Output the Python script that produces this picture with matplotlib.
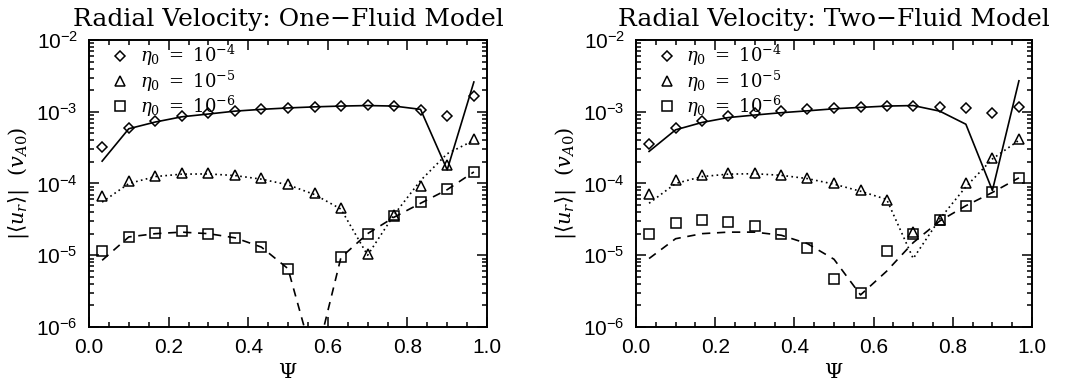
import numpy as np
import matplotlib
matplotlib.use("Agg")
import matplotlib.pyplot as plt
from matplotlib.ticker import MultipleLocator, LogLocator, NullFormatter
from matplotlib.lines import Line2D

psi = [0.033, 0.100, 0.167, 0.233, 0.300, 0.367, 0.433, 0.500,
       0.567, 0.633, 0.700, 0.767, 0.833, 0.900, 0.967]

# ---- One-fluid model ----
one_diam = [3.2e-4, 5.9e-4, 7.4e-4, 8.7e-4, 9.5e-4, 1.04e-3, 1.10e-3, 1.14e-3,
            1.18e-3, 1.21e-3, 1.23e-3, 1.20e-3, 1.07e-3, 8.7e-4, 1.65e-3]
one_solid = [2.05e-4, 5.8e-4, 7.2e-4, 8.5e-4, 9.3e-4, 1.02e-3, 1.08e-3, 1.13e-3,
             1.17e-3, 1.20e-3, 1.22e-3, 1.20e-3, 1.08e-3, 1.55e-4, 2.6e-3]
one_tri = [6.6e-5, 1.07e-4, 1.28e-4, 1.38e-4, 1.38e-4, 1.30e-4, 1.18e-4, 9.8e-5,
           7.3e-5, 4.5e-5, 1.05e-5, 3.6e-5, 9.3e-5, 1.8e-4, 4.2e-4]
one_dot = [5.5e-5, 1.0e-4, 1.25e-4, 1.35e-4, 1.36e-4, 1.29e-4, 1.15e-4, 9.6e-5,
           7.0e-5, 4.4e-5, 1.0e-5, 3.7e-5, 1.1e-4, 2.6e-4, 4.0e-4]
one_sq = [1.15e-5, 1.8e-5, 2.05e-5, 2.15e-5, 2.0e-5, 1.75e-5, 1.3e-5, 6.5e-6,
          np.nan, 9.5e-6, 2.0e-5, 3.5e-5, 5.5e-5, 8.3e-5, 1.45e-4]
one_dash = [8.5e-6, 1.8e-5, 2.0e-5, 2.1e-5, 2.0e-5, 1.75e-5, 1.3e-5, 6.5e-6,
            3.0e-7, 9.3e-6, 2.0e-5, 3.4e-5, 5.3e-5, 8.2e-5, 1.45e-4]

# ---- Two-fluid model ----
two_diam = [3.6e-4, 5.9e-4, 7.4e-4, 8.7e-4, 9.7e-4, 1.04e-3, 1.10e-3, 1.14e-3,
            1.18e-3, 1.21e-3, 1.21e-3, 1.18e-3, 1.12e-3, 9.7e-4, 1.18e-3]
two_solid = [2.8e-4, 5.6e-4, 7.1e-4, 8.3e-4, 9.0e-4, 9.7e-4, 1.03e-3, 1.10e-3,
             1.15e-3, 1.20e-3, 1.22e-3, 1.02e-3, 6.7e-4, 8.0e-5, 2.7e-3]
two_tri = [7.2e-5, 1.12e-4, 1.32e-4, 1.39e-4, 1.39e-4, 1.32e-4, 1.21e-4, 1.0e-4,
           8.2e-5, 5.8e-5, 2.1e-5, 3.1e-5, 1.03e-4, 2.3e-4, 4.2e-4]
two_dot = [5.3e-5, 1.0e-4, 1.25e-4, 1.35e-4, 1.37e-4, 1.30e-4, 1.17e-4, 9.8e-5,
           7.8e-5, 6.0e-5, 9.0e-6, 3.2e-5, 9.0e-5, 2.2e-4, 4.0e-4]
two_sq = [2.0e-5, 2.8e-5, 3.1e-5, 2.9e-5, 2.55e-5, 1.95e-5, 1.25e-5, 4.6e-6,
          3.0e-6, 1.15e-5, 2.0e-5, 3.1e-5, 4.9e-5, 7.7e-5, 1.2e-4]
two_dash = [9.0e-6, 1.7e-5, 2.0e-5, 2.1e-5, 2.1e-5, 1.9e-5, 1.45e-5, 8.8e-6,
            2.8e-6, 6.0e-6, 1.5e-5, 3.0e-5, 4.9e-5, 7.5e-5, 1.2e-4]

titles = ["Radial Velocity: One\u2212Fluid Model", "Radial Velocity: Two\u2212Fluid Model"]
legend_labels = [r"$\eta_0\ =\ 10^{-4}$", r"$\eta_0\ =\ 10^{-5}$", r"$\eta_0\ =\ 10^{-6}$"]
xticks = [0.0, 0.2, 0.4, 0.6, 0.8, 1.0]

plt.rcParams['font.family'] = ['Liberation Sans', 'DejaVu Sans']
plt.rcParams['mathtext.fontset'] = 'dejavuserif'

fig = plt.figure(figsize=(10.73, 3.87), dpi=100)
positions = [[89/1073, 1-327/387, 398/1073, 287/387],
             [636/1073, 1-327/387, 396/1073, 287/387]]

panels = [
    (one_diam, one_solid, one_tri, one_dot, one_sq, one_dash),
    (two_diam, two_solid, two_tri, two_dot, two_sq, two_dash),
]

lw = 1.2
mk = dict(mfc='none', mec='black', mew=1.1, ls='none')
for k, (pos, data) in enumerate(zip(positions, panels)):
    d, sl, t, dl, s, dsl = data
    ax = fig.add_axes(pos)
    ax.set_yscale('log')
    ax.plot(psi, sl, color='black', lw=lw, ls='-')
    ax.plot(psi, dl, color='black', lw=lw, ls=(0, (1, 2)))
    ax.plot(psi, dsl, color='black', lw=lw, ls=(0, (5, 4)))
    ax.plot(psi, d, marker='D', ms=4.6, **mk)
    ax.plot(psi, t, marker='^', ms=6.5, **mk)
    ax.plot(psi, s, marker='s', ms=6.5, **mk)
    ax.set_xlim(0, 1)
    ax.set_ylim(1e-6, 1e-2)
    ax.set_xticks(xticks)
    ax.set_xticklabels([f"{v:.1f}" for v in xticks])
    ax.xaxis.set_minor_locator(MultipleLocator(0.05))
    ax.yaxis.set_major_locator(LogLocator(base=10, numticks=10))
    ax.yaxis.set_minor_locator(LogLocator(base=10, subs=np.arange(2, 10), numticks=10))
    ax.yaxis.set_minor_formatter(NullFormatter())
    ax.tick_params(which='both', direction='in', top=True, right=True,
                   labelsize=15, width=1.1, color='black')
    ax.tick_params(which='major', length=7, pad=8)
    ax.tick_params(which='minor', length=3.5)
    for sp in ax.spines.values():
        sp.set_linewidth(1.4)
    ax.set_title(titles[k], fontsize=18, family='DejaVu Serif', pad=10)
    ax.set_xlabel(r"$\Psi$", fontsize=15, labelpad=4)
    ax.set_ylabel(r"$|\langle u_r\rangle|\ \ (v_{A0})$", fontsize=15, labelpad=4)
    handles = [Line2D([], [], marker='D', ms=4.6, **mk),
               Line2D([], [], marker='^', ms=6.5, **mk),
               Line2D([], [], marker='s', ms=6.5, **mk)]
    ax.legend(handles, legend_labels, loc='upper left', frameon=False,
              fontsize=13, handlelength=1.0, handletextpad=0.6,
              labelspacing=0.0, borderaxespad=0.0, borderpad=0.1,
              bbox_to_anchor=(0.05, 0.995))

fig.savefig("out.png", dpi=100)
